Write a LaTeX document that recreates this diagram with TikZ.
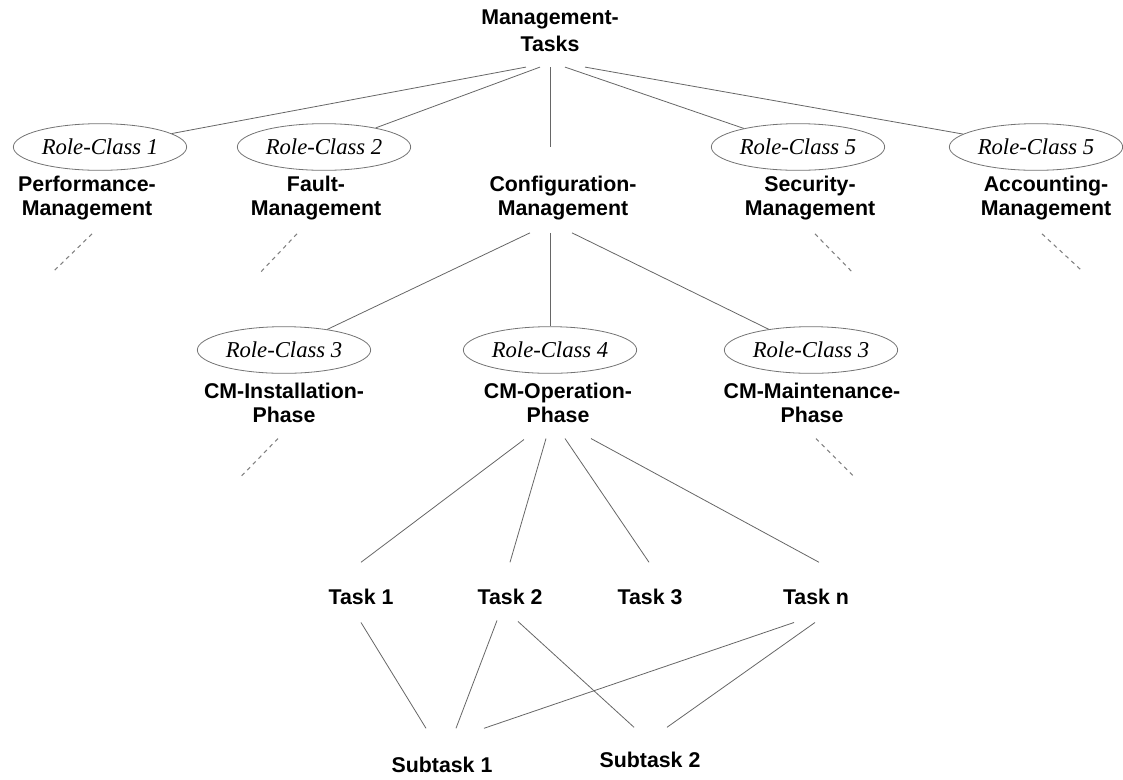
\documentclass[tikz,border=0pt]{standalone}
\usepackage{fontspec}
\setmainfont{Liberation Sans}
\newfontfamily\roleserif{Liberation Serif}
\usetikzlibrary{shapes.geometric,calc}

\begin{document}
\begin{tikzpicture}[x=0.75pt, y=-0.75pt,
  task/.style={font=\bfseries\fontsize{16}{17.5}\selectfont, align=center, inner sep=0pt},
  role/.style={ellipse, draw=black!55, line width=0.6pt, minimum width=130pt, minimum height=35pt,
    inner sep=0pt, font=\roleserif\itshape\fontsize{17}{20}\selectfont},
  link/.style={draw=black!60, line width=0.6pt},
  more/.style={draw=black!50, line width=0.8pt, dash pattern=on 3pt off 3pt}]
  \useasboundingbox (0,0) rectangle (1123,779);

  % management tasks and the role classes
  \node[task, anchor=north, font=\bfseries\fontsize{16}{20}\selectfont] (mt) at (550,10) {Management-\\Tasks};
  \node[role] (rc1) at (100,147) {Role-Class 1};
  \node[role] (rc2) at (324,147) {Role-Class 2};
  \node[role] (rc5a) at (798,147) {Role-Class 5};
  \node[role] (rc5b) at (1036,147) {Role-Class 5};
  \node[task, anchor=north] (pm) at (87,176) {Performance-\\Management};
  \node[task, anchor=north] (fm) at (316,176) {Fault-\\Management};
  \node[task, anchor=north] (cm) at (563,176) {Configuration-\\Management};
  \node[task, anchor=north] (sm) at (810,176) {Security-\\Management};
  \node[task, anchor=north] (am) at (1046,176) {Accounting-\\Management};

  % phases of configuration management
  \node[role] (rc3a) at (284,350) {Role-Class 3};
  \node[role] (rc4) at (550,350) {Role-Class 4};
  \node[role] (rc3b) at (811,350) {Role-Class 3};
  \node[task, anchor=north] (ip) at (284,383) {CM-Installation-\\Phase};
  \node[task, anchor=north] (op) at (558,383) {CM-Operation-\\Phase};
  \node[task, anchor=north] (mp) at (812,383) {CM-Maintenance-\\Phase};

  % tasks and subtasks
  \node[task, anchor=base] (t1) at (361,604) {Task 1};
  \node[task, anchor=base] (t2) at (510,604) {Task 2};
  \node[task, anchor=base] (t3) at (650,604) {Task 3};
  \node[task, anchor=base] (tn) at (816,604) {Task n};
  \node[task, anchor=base] (s1) at (442,772) {Subtask 1};
  \node[task, anchor=base] (s2) at (650,767) {Subtask 2};

  \draw[link] ($(mt.south)+(-24,15)$) -- (rc1);
  \draw[link] ($(mt.south)+(-10,15)$) -- (rc2);
  \draw[link] ($(mt.south)+(0,15)$) -- ($(cm.north)+(-13,-29)$);
  \draw[link] ($(mt.south)+(15,15)$) -- (rc5a);
  \draw[link] ($(mt.south)+(35,15)$) -- (rc5b);

  \draw[link] ($(cm.south)+(-33,13)$) -- (rc3a);
  \draw[link] ($(cm.south)+(-13,13)$) -- (rc4);
  \draw[link] ($(cm.south)+(9,13)$) -- (rc3b);

  \draw[more] ($(pm.south)+(5,14)$) -- ++(-39,38);
  \draw[more] ($(fm.south)+(-19,14)$) -- ++(-37,39);
  \draw[more] ($(sm.south)+(5,14)$) -- ++(38,39);
  \draw[more] ($(am.south)+(-4,14)$) -- ++(40,37);
  \draw[more] ($(ip.south)+(-6,16)$) -- ++(-38,39);
  \draw[more] ($(mp.south)+(4,16)$) -- ++(39,39);

  \draw[link] ($(op.south)+(-34,17)$) -- ($(t1.north)+(0,-26)$);
  \draw[link] ($(op.south)+(-12,16)$) -- ($(t2.north)+(0,-26)$);
  \draw[link] ($(op.south)+(7,16)$) -- ($(t3.north)+(-1,-26)$);
  \draw[link] ($(op.south)+(33,16)$) -- ($(tn.north)+(3,-26)$);

  \draw[link] ($(t1.south)+(0,18)$) -- ($(s1.north)+(-16,-28)$);
  \draw[link] ($(t2.south)+(-13,16)$) -- ($(s1.north)+(14,-28)$);
  \draw[link] ($(t2.south)+(8,17)$) -- ($(s2.north)+(-16,-24)$);
  \draw[link] ($(tn.south)+(-22,18)$) -- ($(s1.north)+(42,-28)$);
  \draw[link] ($(tn.south)+(-1,18)$) -- ($(s2.north)+(17,-24)$);
\end{tikzpicture}
\end{document}
